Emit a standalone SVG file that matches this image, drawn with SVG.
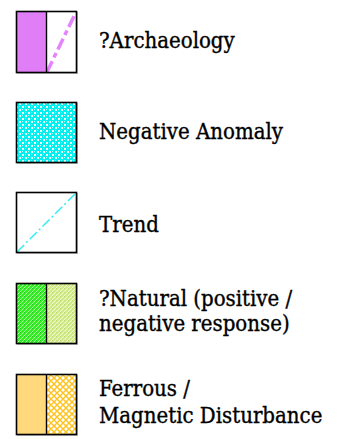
<svg xmlns="http://www.w3.org/2000/svg" width="340" height="439" viewBox="0 0 340 439">
<style>
.lbl{font-family:'DejaVu Serif Condensed','DejaVu Serif',serif;font-size:22px;fill:#000;stroke:#000;stroke-width:0.35px}
.box{fill:none;stroke:#000;stroke-width:1.6}
.shadow{fill:none;stroke:#c8c8c8;stroke-width:1}
</style>
<defs>
<pattern id="cyan" width="6" height="6" patternUnits="userSpaceOnUse">
<rect width="6" height="6" fill="#00f0f0"/>
<rect x="1" y="1" width="2" height="2" fill="#f0ffff"/>
<rect x="4" y="4" width="2" height="2" fill="#f0ffff"/>
<rect x="4" y="1" width="1" height="1" fill="#a0ffff"/>
<rect x="1" y="4" width="1" height="1" fill="#a0ffff"/>
</pattern>
<pattern id="green" width="4" height="4" patternUnits="userSpaceOnUse">
<rect width="4" height="4" fill="#33ee22"/>
<path d="M0,4 L4,0" stroke="#a8ff98" stroke-width="1"/>
<rect x="0" y="0" width="1" height="1" fill="#22cc22"/>
</pattern>
<pattern id="lgreen" width="4" height="4" patternUnits="userSpaceOnUse">
<rect width="4" height="4" fill="#d2ea88"/>
<path d="M0,4 L4,0" stroke="#f0f8d0" stroke-width="1"/>
<rect x="0" y="0" width="1" height="1" fill="#bcd870"/>
</pattern>
<pattern id="orange" width="6" height="6" patternUnits="userSpaceOnUse">
<rect width="6" height="6" fill="#fff"/>
<path d="M0,0 L6,6 M6,0 L0,6 M-3,3 L3,-3 M3,9 L9,3 M-3,3 L3,9 M3,-3 L9,3" stroke="#ffc21a" stroke-width="1.4"/>
</pattern>
</defs>

<g id="archaeology">
<rect x="17.5" y="12.5" width="60" height="61" class="shadow"/>
<rect x="16.5" y="11.5" width="30" height="61" fill="#e07ef8"/>
<rect x="46.5" y="11.5" width="30" height="61" fill="#fff"/>
<line x1="47" y1="72" x2="76" y2="12" stroke="#e484ff" stroke-width="3.5" stroke-dasharray="12,4,5,4"/>
<rect x="16.5" y="11.5" width="60" height="61" class="box"/>
<line x1="46.5" y1="11.5" x2="46.5" y2="72.5" stroke="#000" stroke-width="1.4"/>
<text x="99" y="48" class="lbl">?Archaeology</text>
</g>

<g id="negative-anomaly">
<rect x="17.5" y="103.5" width="60" height="60" class="shadow"/>
<rect x="16.5" y="102.5" width="60" height="60" fill="url(#cyan)"/>
<rect x="16.5" y="102.5" width="60" height="60" class="box"/>
<text x="99" y="139" class="lbl">Negative Anomaly</text>
</g>

<g id="trend">
<rect x="17.5" y="193.5" width="60" height="60" class="shadow"/>
<rect x="16.5" y="192.5" width="60" height="60" fill="#fff"/>
<line x1="17" y1="252" x2="76" y2="193" stroke="#33eef0" stroke-width="1.5" stroke-dasharray="10,3,2,3"/>
<rect x="16.5" y="192.5" width="60" height="60" class="box"/>
<text x="99" y="232" class="lbl">Trend</text>
</g>

<g id="natural">
<rect x="17.5" y="284.5" width="60" height="60" class="shadow"/>
<rect x="16.5" y="283.5" width="30" height="60" fill="url(#green)"/>
<rect x="46.5" y="283.5" width="30" height="60" fill="url(#lgreen)"/>
<rect x="16.5" y="283.5" width="60" height="60" class="box"/>
<line x1="46.5" y1="283.5" x2="46.5" y2="343.5" stroke="#000" stroke-width="1.4"/>
<text class="lbl"><tspan x="99" y="306">?Natural (positive /</tspan><tspan x="99" y="331">negative response)</tspan></text>
</g>

<g id="ferrous">
<rect x="17.5" y="375.5" width="60" height="60" class="shadow"/>
<rect x="16.5" y="374.5" width="30" height="60" fill="#ffd97c"/>
<rect x="46.5" y="374.5" width="30" height="60" fill="url(#orange)"/>
<rect x="16.5" y="374.5" width="60" height="60" class="box"/>
<line x1="46.5" y1="374.5" x2="46.5" y2="434.5" stroke="#000" stroke-width="1.4"/>
<text class="lbl"><tspan x="99" y="396">Ferrous /</tspan><tspan x="99" y="423">Magnetic Disturbance</tspan></text>
</g>
</svg>
